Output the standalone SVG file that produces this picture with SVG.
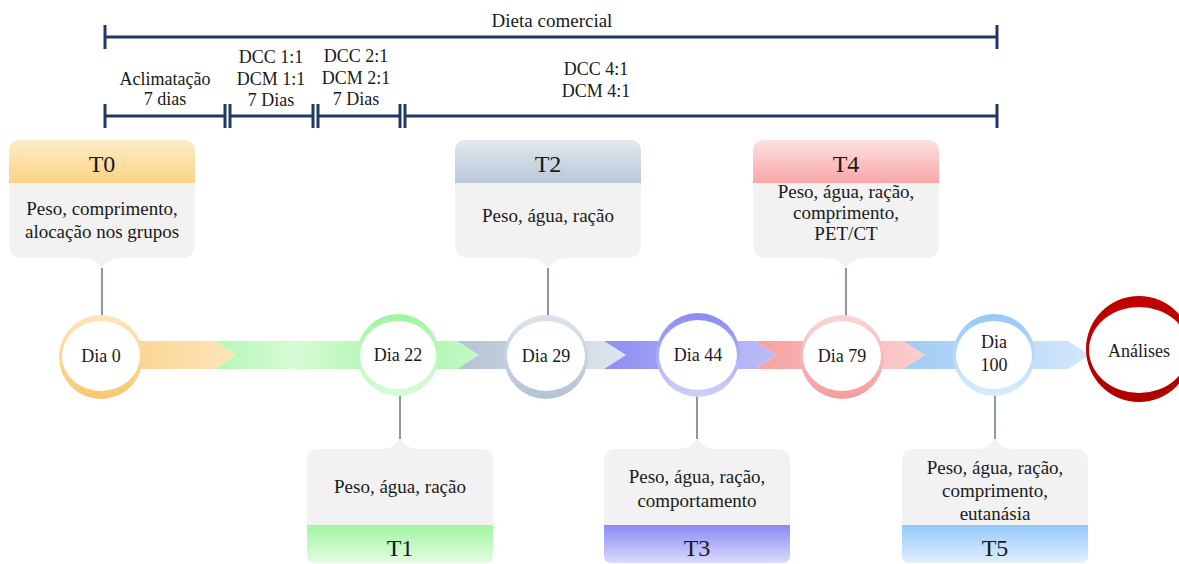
<svg xmlns="http://www.w3.org/2000/svg" xmlns:xlink="http://www.w3.org/1999/xlink" width="1179" height="564" viewBox="0 0 1179 564">
<style>
.t{font-family:"Liberation Serif","Times New Roman",serif;fill:#1a1a1a;text-anchor:middle}
.s18{font-size:18px}
.s19{font-size:19px}
.h{font-size:24px}
.bar{stroke:#1f3864;stroke-width:3;fill:none}
.con{stroke:#8d98a4;stroke-width:2;fill:none}
.body{fill:#f2f2f2}
.white{fill:#ffffff}
</style>
<defs>
<path id="boxTop" d="M12,0 H174 Q186,0 186,12 V104 Q186,118 172,118 H112 Q102,118 97,124 L93,128 L89,124 Q84,118 74,118 H14 Q0,118 0,104 V12 Q0,0 12,0 Z"/>
<path id="hdrTop" d="M0,43 V12 Q0,0 12,0 H174 Q186,0 186,12 V43 Z"/>
<path id="boxBot" d="M12,0 H74 Q84,0 89,-6 L93,-10 L97,-6 Q102,0 112,0 H174 Q186,0 186,12 V106 Q186,114 178,114 H8 Q0,114 0,106 V12 Q0,0 12,0 Z"/>
<path id="ftrBot" d="M0,76 H186 V106 Q186,114 178,114 H8 Q0,114 0,106 Z"/>
<linearGradient id="gH0" x1="0" y1="0" x2="0" y2="1"><stop offset="0" stop-color="#fdecc8"/><stop offset="1" stop-color="#fbd386"/></linearGradient>
<linearGradient id="gH2" x1="0" y1="0" x2="0" y2="1"><stop offset="0" stop-color="#e2e9f0"/><stop offset="1" stop-color="#b8c8d8"/></linearGradient>
<linearGradient id="gH4" x1="0" y1="0" x2="0" y2="1"><stop offset="0" stop-color="#fde2e2"/><stop offset="1" stop-color="#f8a6a6"/></linearGradient>
<linearGradient id="gF1" x1="0" y1="0" x2="0" y2="1"><stop offset="0" stop-color="#a2f5a2"/><stop offset="1" stop-color="#e2fde2"/></linearGradient>
<linearGradient id="gF3" x1="0" y1="0" x2="0" y2="1"><stop offset="0" stop-color="#8a8af4"/><stop offset="1" stop-color="#dadafc"/></linearGradient>
<linearGradient id="gF5" x1="0" y1="0" x2="0" y2="1"><stop offset="0" stop-color="#94c8fb"/><stop offset="1" stop-color="#e2f0fd"/></linearGradient>
<linearGradient id="bO" x1="0" y1="0" x2="1" y2="0"><stop offset="0" stop-color="#fbd287"/><stop offset="1" stop-color="#fde4b8"/></linearGradient>
<linearGradient id="bG" x1="0" y1="0" x2="1" y2="0"><stop offset="0" stop-color="#b4f7b4"/><stop offset="0.3" stop-color="#d6fbd6"/><stop offset="0.7" stop-color="#a8f5a8"/><stop offset="1" stop-color="#c4f9c4"/></linearGradient>
<linearGradient id="bS" x1="0" y1="0" x2="1" y2="0"><stop offset="0" stop-color="#b3c3d4"/><stop offset="1" stop-color="#dfe6ee"/></linearGradient>
<linearGradient id="bV" x1="0" y1="0" x2="1" y2="0"><stop offset="0" stop-color="#8e8ef3"/><stop offset="1" stop-color="#bdbdf8"/></linearGradient>
<linearGradient id="bP" x1="0" y1="0" x2="1" y2="0"><stop offset="0" stop-color="#f6a0a0"/><stop offset="1" stop-color="#fbcfcf"/></linearGradient>
<linearGradient id="bB" x1="0" y1="0" x2="1" y2="0"><stop offset="0" stop-color="#a0cbf5"/><stop offset="1" stop-color="#d3e7fb"/></linearGradient>
<linearGradient id="cO" x1="0" y1="0" x2="0" y2="1"><stop offset="0" stop-color="#fde6bb"/><stop offset="1" stop-color="#f9c76f"/></linearGradient>
<linearGradient id="cG" x1="0" y1="0" x2="0" y2="1"><stop offset="0" stop-color="#a0f5a0"/><stop offset="1" stop-color="#d8fcd8"/></linearGradient>
<linearGradient id="cS" x1="0" y1="0" x2="0" y2="1"><stop offset="0" stop-color="#dce3eb"/><stop offset="1" stop-color="#b3c2d2"/></linearGradient>
<linearGradient id="cV" x1="0" y1="0" x2="0" y2="1"><stop offset="0" stop-color="#8a8af2"/><stop offset="1" stop-color="#d0d0fa"/></linearGradient>
<linearGradient id="cP" x1="0" y1="0" x2="0" y2="1"><stop offset="0" stop-color="#fbd4d4"/><stop offset="1" stop-color="#f59c9c"/></linearGradient>
<linearGradient id="cB" x1="0" y1="0" x2="0" y2="1"><stop offset="0" stop-color="#96c8f7"/><stop offset="1" stop-color="#daecfc"/></linearGradient>
<linearGradient id="cR" x1="0" y1="0" x2="0" y2="1"><stop offset="0" stop-color="#c00000"/><stop offset="1" stop-color="#b00000"/></linearGradient>
</defs>

<g id="phases">
<line class="bar" x1="105" y1="37" x2="997" y2="37"/>
<line class="bar" x1="105" y1="25" x2="105" y2="49"/>
<line class="bar" x1="997" y1="25" x2="997" y2="49"/>
<text class="t s19" x="552" y="27">Dieta comercial</text>
<line class="bar" x1="105" y1="116" x2="225" y2="116"/>
<line class="bar" x1="230" y1="116" x2="313" y2="116"/>
<line class="bar" x1="318" y1="116" x2="400" y2="116"/>
<line class="bar" x1="405" y1="116" x2="997" y2="116"/>
<line class="bar" x1="105" y1="104" x2="105" y2="128"/>
<line class="bar" x1="225" y1="104" x2="225" y2="128"/>
<line class="bar" x1="230" y1="104" x2="230" y2="128"/>
<line class="bar" x1="313" y1="104" x2="313" y2="128"/>
<line class="bar" x1="318" y1="104" x2="318" y2="128"/>
<line class="bar" x1="400" y1="104" x2="400" y2="128"/>
<line class="bar" x1="405" y1="104" x2="405" y2="128"/>
<line class="bar" x1="997" y1="104" x2="997" y2="128"/>
<text class="t s18" x="165" y="85">Aclimatação</text>
<text class="t s18" x="165" y="105">7 dias</text>
<text class="t s18" x="271" y="63">DCC 1:1</text>
<text class="t s18" x="271" y="85">DCM 1:1</text>
<text class="t s18" x="271" y="106">7 Dias</text>
<text class="t s18" x="356" y="62">DCC 2:1</text>
<text class="t s18" x="356" y="84">DCM 2:1</text>
<text class="t s18" x="356" y="105">7 Dias</text>
<text class="t s18" x="596" y="75">DCC 4:1</text>
<text class="t s18" x="596" y="97">DCM 4:1</text>
</g>

<g id="band">
<polygon fill="url(#bG)" points="214,341 457,341 479,355 457,369 214,369 236,355"/>
<polygon fill="url(#bO)" points="100,341 214,341 236,355 214,369 100,369"/>
<polygon fill="url(#bS)" points="457,341 604,341 626,355 604,369 457,369 479,355"/>
<polygon fill="url(#bV)" points="604,341 755,341 777,355 755,369 604,369 626,355"/>
<polygon fill="url(#bP)" points="755,341 903,341 925,355 903,369 755,369 777,355"/>
<polygon fill="url(#bB)" points="903,341 1068,341 1090,355 1068,369 903,369 925,355"/>
</g>

<g id="connectors">
<line class="con" x1="102" y1="268" x2="102" y2="318"/>
<line class="con" x1="548" y1="268" x2="548" y2="318"/>
<line class="con" x1="846" y1="268" x2="846" y2="318"/>
<line class="con" x1="400" y1="393" x2="400" y2="439"/>
<line class="con" x1="697" y1="393" x2="697" y2="439"/>
<line class="con" x1="995" y1="393" x2="995" y2="439"/>
</g>

<g id="dia0">
<circle cx="101" cy="357" r="42" fill="url(#cO)"/>
<ellipse class="white" cx="101" cy="356" rx="39" ry="35"/>
<text class="t s18" x="101" y="362">Dia 0</text>
</g>
<g id="dia22">
<circle cx="398" cy="355" r="41" fill="url(#cG)"/>
<ellipse class="white" cx="398" cy="355" rx="38" ry="34"/>
<text class="t s18" x="398" y="361">Dia 22</text>
</g>
<g id="dia29">
<circle cx="546" cy="357" r="42" fill="url(#cS)"/>
<ellipse class="white" cx="546" cy="356" rx="39" ry="35"/>
<text class="t s18" x="546" y="362">Dia 29</text>
</g>
<g id="dia44">
<circle cx="698" cy="355" r="42" fill="url(#cV)"/>
<ellipse class="white" cx="698" cy="355" rx="39" ry="35"/>
<text class="t s18" x="698" y="361">Dia 44</text>
</g>
<g id="dia79">
<circle cx="842" cy="357" r="42" fill="url(#cP)"/>
<ellipse class="white" cx="842" cy="356" rx="39" ry="35"/>
<text class="t s18" x="842" y="362">Dia 79</text>
</g>
<g id="dia100">
<circle cx="994" cy="355" r="41" fill="url(#cB)"/>
<ellipse class="white" cx="994" cy="355" rx="38" ry="34"/>
<text class="t s18" x="994" y="348">Dia</text>
<text class="t s18" x="994" y="371">100</text>
</g>
<g id="analises">
<circle cx="1139" cy="349" r="53" fill="url(#cR)"/>
<ellipse class="white" cx="1139" cy="350" rx="50" ry="43"/>
<text class="t s18" x="1139" y="357">Análises</text>
</g>

<g id="T0" transform="translate(9,140)">
<use href="#boxTop" class="body"/>
<use href="#hdrTop" fill="url(#gH0)"/>
<text class="t h" x="93" y="32">T0</text>
<text class="t s19" x="93" y="75">Peso, comprimento,</text>
<text class="t s19" x="93" y="98">alocação nos grupos</text>
</g>
<g id="T2" transform="translate(455,140)">
<use href="#boxTop" class="body"/>
<use href="#hdrTop" fill="url(#gH2)"/>
<text class="t h" x="93" y="32">T2</text>
<text class="t s19" x="93" y="82">Peso, água, ração</text>
</g>
<g id="T4" transform="translate(753,140)">
<use href="#boxTop" class="body"/>
<use href="#hdrTop" fill="url(#gH4)"/>
<text class="t h" x="93" y="32">T4</text>
<text class="t s19" x="93" y="58">Peso, água, ração,</text>
<text class="t s19" x="93" y="79">comprimento,</text>
<text class="t s19" x="93" y="100">PET/CT</text>
</g>
<g id="T1" transform="translate(307,449)">
<use href="#boxBot" class="body"/>
<use href="#ftrBot" fill="url(#gF1)"/>
<text class="t s19" x="93" y="44">Peso, água, ração</text>
<text class="t h" x="93" y="107">T1</text>
</g>
<g id="T3" transform="translate(604,449)">
<use href="#boxBot" class="body"/>
<use href="#ftrBot" fill="url(#gF3)"/>
<text class="t s19" x="93" y="34">Peso, água, ração,</text>
<text class="t s19" x="93" y="58">comportamento</text>
<text class="t h" x="93" y="107">T3</text>
</g>
<g id="T5" transform="translate(902,449)">
<use href="#boxBot" class="body"/>
<use href="#ftrBot" fill="url(#gF5)"/>
<text class="t s19" x="93" y="25">Peso, água, ração,</text>
<text class="t s19" x="93" y="48">comprimento,</text>
<text class="t s19" x="93" y="71">eutanásia</text>
<text class="t h" x="93" y="107">T5</text>
</g>
</svg>
